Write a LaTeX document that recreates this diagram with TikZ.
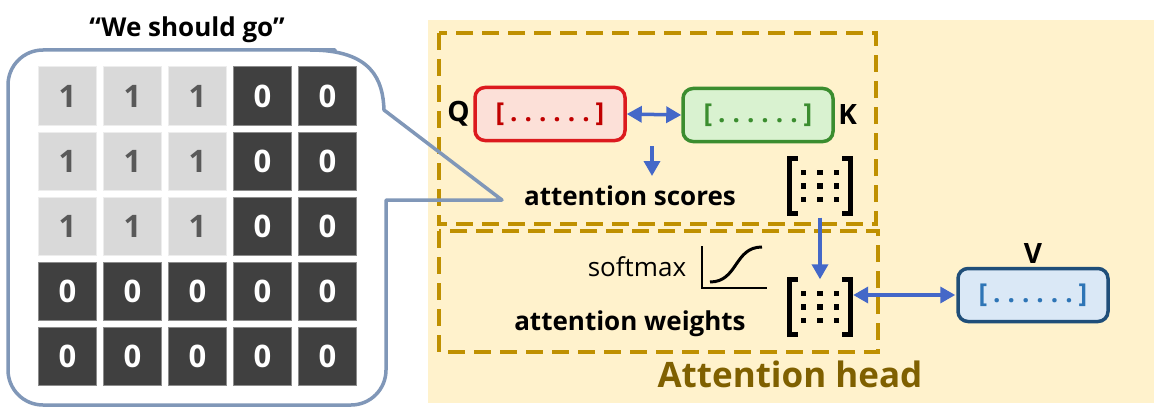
\documentclass[tikz,border=0pt]{standalone}
\usepackage{fontspec}
\setmainfont{Open Sans}
\usetikzlibrary{arrows.meta}
\definecolor{yel}{HTML}{FFF2CC}
\definecolor{gold}{HTML}{BF9000}
\definecolor{headc}{HTML}{7F6000}
\definecolor{arrc}{HTML}{4468C8}
\definecolor{callc}{HTML}{8097B8}
\definecolor{lightc}{HTML}{D9D9D9}
\definecolor{darkc}{HTML}{404040}
\definecolor{qfill}{HTML}{FCE0D8}
\definecolor{qdraw}{HTML}{DC1A1E}
\definecolor{qtext}{HTML}{C00000}
\definecolor{kfill}{HTML}{D9F2D0}
\definecolor{kdraw}{HTML}{3B8D2F}
\definecolor{vfill}{HTML}{DAE8F6}
\definecolor{vdraw}{HTML}{1F4E79}
\definecolor{vtext}{HTML}{2E75B6}
\newcommand\fsz[1]{\fontsize{#1}{#1}\selectfont}
\newcommand\vecdots{[\kern6pt.\kern7pt.\kern7pt.\kern7pt.\kern7pt.\kern7pt.\kern6pt]}
\tikzset{
  dbox/.style={draw=gold, line width=3.5pt, dash pattern=on 17pt off 9pt},
  arr/.style={draw=arrc, line width=3.5pt, -{Triangle[length=15pt,width=16pt]}},
  darr/.style={draw=arrc, line width=3.5pt, {Triangle[length=15pt,width=16pt]}-{Triangle[length=15pt,width=16pt]}},
  vecbox/.style={rectangle, rounded corners=10pt, line width=3.5pt, minimum width=150pt, minimum height=53pt, font=\bfseries\fsz{26}},
  lbl/.style={font=\bfseries\fsz{28}},
  cellL/.style={rectangle, fill=lightc, draw=white!93!black, line width=1pt, minimum size=58pt, text=black!65, font=\bfseries\fsz{31}},
  cellD/.style={rectangle, fill=darkc, draw=black!45, line width=1pt, minimum size=58pt, text=white, font=\bfseries\fsz{31}},
  matico/.style={rectangle, minimum width=66pt, minimum height=55pt, inner sep=0pt},
  btxt/.style={font=\bfseries\fsz{26}},
}
\newcommand\drawmat[1]{%
  \draw[line width=5.5pt] ([xshift=11pt]#1.north west) -- ([xshift=2.75pt]#1.north west) -- ([xshift=2.75pt]#1.south west) -- ([xshift=11pt]#1.south west);
  \draw[line width=5.5pt] ([xshift=-11pt]#1.north east) -- ([xshift=-2.75pt]#1.north east) -- ([xshift=-2.75pt]#1.south east) -- ([xshift=-11pt]#1.south east);
  \foreach \dx in {-16.5,0,16.5}{\foreach \dy in {-13.5,0,13.5}{%
    \fill ([shift={(\dx-2.8,\dy-2.8)}]#1.center) rectangle ([shift={(\dx+2.8,\dy+2.8)}]#1.center);}}}
\begin{document}
\begin{tikzpicture}[x=1pt,y=-1pt]
\useasboundingbox (0,0) rectangle (1163,412);
\fill[white] (0,0) rectangle (1163,412);
% attention head background
\fill[yel] (428,20) rectangle (1154,403);
\draw[dbox] (439,33) rectangle (876,224);
\draw[dbox] (439,231) rectangle (878,352);
\node[font=\bfseries\fsz{35}, text=headc] (head) at (790,374) {Attention head};

% callout
\draw[callc, line width=3.5pt, line join=round]
  (502,200) -- (386,200) -- (386,201)
  [rounded corners=35pt] -- (386,405) -- (8,405) -- (8,50) -- (300,50)
  [sharp corners] -- (310,50) .. controls (372,50) and (383,80) .. (384,110) -- cycle;
\node[btxt] (title) at (187,30) {“We should go”};

% mask grid
\foreach \r in {1,...,5}{
  \foreach \c in {1,...,5}{
    \pgfmathtruncatemacro\islight{(\r<4)&&(\c<4)}
    \ifnum\islight=1
      \node[cellL] (c\r\c) at ({67.5+65*(\c-1)},{96+65.2*(\r-1)}) {1};
    \else
      \node[cellD] (c\r\c) at ({67.5+65*(\c-1)},{96+65.2*(\r-1)}) {0};
    \fi
  }
}

% Q K V
\node[vecbox, fill=qfill, draw=qdraw, text=qtext] (Q) at (550,114) {\vecdots};
\node[vecbox, fill=kfill, draw=kdraw, text=kdraw] (K) at (758,115) {\vecdots};
\node[vecbox, fill=vfill, draw=vdraw, text=vtext] (V) at (1033,295) {\vecdots};
\node[lbl, anchor=east] (Ql) at (Q.west) {Q};
\node[lbl, anchor=west] (Kl) at (K.east) {K};
\node[lbl, anchor=south] (Vl) at (V.north) {V};
\draw[darr] (Q.east) -- (K.west);
\coordinate (d1) at (652,146);
\coordinate (d2) at (652,176);
\draw[arr] (d1) -- (d2);

% scores / weights
\node[btxt] (scores) at (630,196) {attention scores};
\node[btxt] (weights) at (630,324) {attention weights};
\node[font=\fsz{26}] (softmax) at (637,267) {softmax};
\draw[line width=2.5pt] (702,246) -- (702,288) -- (767,288);
\draw[line width=3pt] (710,282) .. controls (738,282) and (734,247) .. (762,247);

\node[matico] (S) at (820,186) {};
\drawmat{S}
\node[matico] (W) at (820,307) {};
\drawmat{W}
\draw[arr, shorten <=4pt] (S.south) -- (W.north);
\draw[darr, shorten <=1pt] (V.west) -- (V.west -| W.east);
\end{tikzpicture}
\end{document}
